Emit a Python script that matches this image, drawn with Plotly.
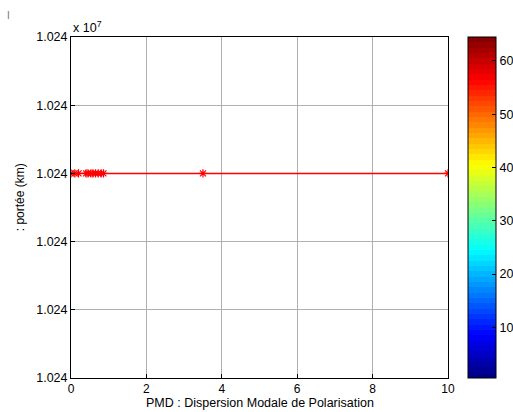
import plotly.graph_objects as go
import numpy as np

# Data
pmd = [0, 0.1, 0.2, 0.4, 0.45, 0.53, 0.58, 0.65, 0.72, 0.8, 0.86, 3.5, 10]
portee = [10240000] * len(pmd)
x_ticks = [0, 2, 4, 6, 8, 10]
y_ticks = [10239997, 10239998, 10239999, 10240000, 10240001, 10240002]
y_ticktext = ["1.024"] * 6
cbar_ticks = [10, 20, 30, 40, 50, 60]

# MATLAB jet colormap (64 levels), discrete bands
def jet(n=64):
    cols = []
    for i in range(n):
        t = (i + 0.5) / n
        r = np.clip(1.5 - abs(4 * t - 3), 0, 1)
        g = np.clip(1.5 - abs(4 * t - 2), 0, 1)
        b = np.clip(1.5 - abs(4 * t - 1), 0, 1)
        cols.append(f"rgb({int(r*255)},{int(g*255)},{int(b*255)})")
    scale = []
    for i, c in enumerate(cols):
        scale.append([i / n, c])
        scale.append([(i + 1) / n, c])
    return scale

FONT = "Liberation Sans, Arial, sans-serif"
FS = 12.5

fig = go.Figure()
fig.add_trace(go.Scatter(
    x=pmd, y=portee, mode="lines+markers",
    line=dict(color="red", width=1.5),
    marker=dict(symbol="asterisk-open", size=7, color="red",
                line=dict(color="red", width=1.2)),
    showlegend=False, hoverinfo="skip",
))
# colorbar holder
fig.add_trace(go.Scatter(
    x=[0], y=[portee[0]], mode="markers",
    marker=dict(size=0.1, opacity=0, color=[32], cmin=0.5, cmax=64.5,
                colorscale=jet(), showscale=True,
                colorbar=dict(x=1.053, xanchor="left", xref="paper",
                              y=0.5, yanchor="middle", len=1, lenmode="fraction",
                              thickness=28, thicknessmode="pixels",
                              outlinecolor="black", outlinewidth=1,
                              tickvals=cbar_ticks, ticks="inside", ticklen=4,
                              tickcolor="black",
                              tickfont=dict(family=FONT, size=FS, color="black"),
                              xpad=0, ypad=0)),
    showlegend=False, hoverinfo="skip",
))

fig.update_layout(
    width=513, height=412,
    margin=dict(l=71, r=65, t=37, b=34, autoexpand=False),
    paper_bgcolor="white", plot_bgcolor="white",
    font=dict(family=FONT, size=FS, color="black"),
    xaxis=dict(range=[0, 10], tickvals=x_ticks, showgrid=True,
               gridcolor="#b0b0b0", gridwidth=1, zeroline=False,
               showline=True, linecolor="black", linewidth=1, mirror=True,
               ticks="inside", ticklen=4, tickcolor="black",
               ticklabelstandoff=0,
               tickfont=dict(size=12), fixedrange=True, automargin=False),
    yaxis=dict(range=[10239997, 10240002], tickvals=y_ticks, ticktext=y_ticktext,
               showgrid=True, gridcolor="#b0b0b0", gridwidth=1, zeroline=False,
               showline=True, linecolor="black", linewidth=1, mirror=True,
               ticks="inside", ticklen=4, tickcolor="black",
               tickfont=dict(size=FS), fixedrange=True, automargin=False),
    annotations=[
        dict(text="x 10<sup>7</sup>", xref="paper", yref="paper", x=0, y=1,
             xanchor="left", yanchor="bottom", yshift=0, showarrow=False,
             font=dict(size=FS)),
        dict(text="PMD : Dispersion Modale de Polarisation", xref="paper",
             yref="paper", x=0.5, y=0, xanchor="center", yanchor="bottom",
             yshift=-34, showarrow=False, font=dict(size=12.5)),
        dict(text=": portée (km)", xref="paper", yref="paper", x=0, y=0.53,
             xanchor="center", yanchor="middle", xshift=-51, textangle=-90,
             showarrow=False, font=dict(size=12)),
        dict(text="I", xref="paper", yref="paper", x=0, y=1,
             xanchor="center", yanchor="middle", xshift=-63, yshift=22,
             showarrow=False, font=dict(size=10, color="#777777")),
    ],
)

fig.write_html("out.html", config={"displayModeBar": False},
               post_script="document.body.style.margin='0';document.body.style.overflow='hidden';")
